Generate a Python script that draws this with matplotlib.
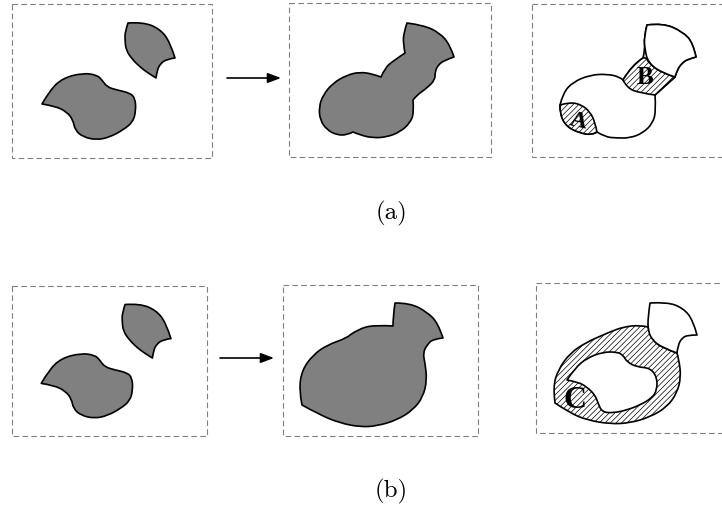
import matplotlib
matplotlib.use("Agg")
import matplotlib.pyplot as plt
from matplotlib.patches import PathPatch, Rectangle
from matplotlib.path import Path

# ---- panel boxes (x0, y0, x1, y1) in pixel coordinates ----
box_a_left = (12, 4, 212, 158)
box_a_mid = (289, 3, 491, 157)
box_a_right = (532, 4, 726, 157)
box_b_left = (12, 286, 207, 436)
box_b_mid = (283, 285, 478, 436)
box_b_right = (536, 283, 726, 433)

# ---- arrows (x_start, x_end, y) ----
arrow_a = (227, 281, 78)
arrow_b = (220, 274, 358)

# ---- captions ----
captions = ["(a)", "(b)"]
caption_pos = [(391, 213), (391, 491)]

# ---- region labels ----
region_labels = ["A", "B", "C"]
region_label_pos = [(578, 121), (645, 78), (575, 400)]
region_label_size = [17, 18, 23]
region_label_rot = [-12, 0, 0]

# ---- shapes: vertex lists; "*" marks a sharp corner ----
piece_small = [(128, 23, "*"), (143, 22), (160, 29), (170, 42), (175, 58, "*"),
               (167, 59), (160, 64), (157, 71), (156, 78, "*"),
               (148, 73), (140, 67), (132, 59), (126, 50), (125, 40),
               (125, 32)]
piece_big = [(42, 104, "*"), (50, 90), (63, 78), (83, 73), (97, 75), (102, 80),
             (107, 87), (117, 90), (130, 93), (135, 98), (136, 110),
             (133, 122), (123, 130), (110, 137), (97, 140), (83, 137),
             (75, 130), (73, 120), (67, 112), (55, 106)]

merged_a = [(407, 23, "*"), (423, 25), (440, 33), (450, 45), (454, 57, "*"),
            (445, 60), (438, 65), (435, 72), (435, 80), (427, 88),
            (417, 95), (413, 100, "*"), (414, 113), (410, 123), (400, 132),
            (387, 137), (373, 138), (360, 135), (353, 132, "*"), (347, 135),
            (337, 135), (327, 130), (320, 120), (319, 107), (323, 95),
            (333, 83), (347, 75), (360, 72), (373, 74), (381, 77, "*"),
            (385, 68), (393, 61), (405, 53, "*"), (403, 43), (404, 32)]

head_ar = [(647, 25, "*"), (663, 23), (683, 32), (693, 43), (696, 57, "*"),
           (688, 59), (682, 63), (677, 70), (675, 77, "*"),
           (660, 72), (648, 62), (645, 50), (644, 37)]
outer_ar = [(647, 25, "*"), (663, 23), (683, 32), (693, 43), (696, 57, "*"),
            (688, 59), (682, 63), (677, 70), (675, 77, "*"), (655, 95, "*"),
            (656, 110), (653, 123), (643, 133), (630, 138), (617, 138),
            (605, 137), (597, 132, "*"), (592, 135), (580, 133), (567, 127),
            (560, 115), (560, 105, "*"), (563, 93), (573, 82), (590, 75),
            (607, 74), (620, 77), (623, 80, "*"), (632, 65), (643, 58, "*"),
            (645, 50), (644, 37)]
region_B = [(623, 80, "*"), (632, 65), (643, 58, "*"), (646, 57), (648, 62),
            (660, 72), (675, 77, "*"), (655, 95, "*"), (640, 93), (627, 88)]
region_A = [(560, 105, "*"), (560, 115), (567, 127), (580, 133), (592, 135),
            (597, 132, "*"), (595, 122), (590, 112), (582, 105), (570, 102)]

closed_b = [(395, 303, "*"), (410, 303), (427, 312), (438, 323), (443, 338, "*"),
            (433, 339), (427, 345), (423, 353), (425, 363), (427, 380),
            (423, 397), (413, 410), (397, 420), (377, 426), (360, 427),
            (340, 423), (320, 415), (302, 405, "*"), (299, 390), (302, 370),
            (313, 355), (327, 345), (347, 338), (350, 335, "*"), (360, 328),
            (377, 325), (393, 326, "*"), (393, 317)]

head_br = [(650, 303, "*"), (667, 302), (683, 308), (693, 320), (697, 335, "*"),
           (688, 335), (682, 338), (678, 345), (677, 353, "*"),
           (663, 348), (652, 340), (648, 330), (648, 317)]
outer_br = [(677, 353, "*"), (679, 360), (681, 377), (677, 393), (667, 407),
            (650, 417), (630, 423), (610, 424), (587, 420), (570, 413),
            (555, 403, "*"), (553, 387), (558, 370), (570, 353), (587, 342),
            (603, 335), (610, 332), (623, 327), (640, 325), (648, 327, "*"),
            (652, 340), (663, 348)]
hole_br = [(567, 380, "*"), (575, 368), (587, 358), (603, 352), (617, 352),
           (623, 355), (627, 362), (637, 367), (650, 368), (657, 377),
           (657, 390), (652, 398), (640, 405), (627, 410), (613, 413),
           (602, 412), (598, 403), (595, 395), (587, 387), (578, 382)]

GRAY = "#808080"
BOX = "#7f7f7f"
LW = 1.2

plt.rcParams["hatch.linewidth"] = 0.5
plt.rcParams["hatch.color"] = "#4a4a4a"

fig = plt.figure(figsize=(7.22, 5.08), dpi=100)
ax = fig.add_axes([0, 0, 1, 1])
ax.set_xlim(0, 722)
ax.set_ylim(508, 0)
ax.axis("off")


def smooth_path(pts):
    P = [(p[0], p[1]) for p in pts]
    C = [len(p) > 2 for p in pts]
    n = len(P)
    if any(C):
        k = C.index(True)
        P = P[k:] + P[:k]
        C = C[k:] + C[:k]
        start = P[0]
    else:
        start = ((P[-1][0] + P[0][0]) / 2, (P[-1][1] + P[0][1]) / 2)
    verts = [start]
    codes = [Path.MOVETO]
    cur = start
    for i in range(n):
        if C[i]:
            if cur != P[i]:
                verts.append(P[i]); codes.append(Path.LINETO)
                cur = P[i]
            continue
        prv, nxt = (i - 1) % n, (i + 1) % n
        a = P[prv] if C[prv] else ((P[prv][0] + P[i][0]) / 2, (P[prv][1] + P[i][1]) / 2)
        b = P[nxt] if C[nxt] else ((P[nxt][0] + P[i][0]) / 2, (P[nxt][1] + P[i][1]) / 2)
        if cur != a:
            verts.append(a); codes.append(Path.LINETO)
        verts += [P[i], b]
        codes += [Path.CURVE3, Path.CURVE3]
        cur = b
    verts.append(start)
    codes.append(Path.CLOSEPOLY)
    return Path(verts, codes)


def box(b):
    x0, y0, x1, y1 = b
    ax.add_patch(Rectangle((x0, y0), x1 - x0, y1 - y0, fill=False,
                           edgecolor=BOX, lw=0.8, ls=(0, (5, 3))))


def shape(pts, face, hatch=None, zorder=2):
    ax.add_patch(PathPatch(smooth_path(pts), facecolor=face, edgecolor="black",
                           lw=LW, hatch=hatch, joinstyle="round",
                           zorder=zorder))


def remap(pts, src, dst):
    sx = (dst[2] - dst[0]) / (src[2] - src[0])
    sy = (dst[3] - dst[1]) / (src[3] - src[1])
    return [(dst[0] + (p[0] - src[0]) * sx, dst[1] + (p[1] - src[1]) * sy) + tuple(p[2:])
            for p in pts]


for b in [box_a_left, box_a_mid, box_a_right, box_b_left, box_b_mid,
          box_b_right]:
    box(b)

# (a)
shape(piece_small, GRAY)
shape(piece_big, GRAY)
shape(merged_a, GRAY)
shape(outer_ar, "white")
shape(region_B, "white", hatch="//////", zorder=3)
shape(region_A, "white", hatch="//////", zorder=3)
shape(head_ar, "white", zorder=4)

# (b)
shape(remap(piece_small, box_a_left, box_b_left), GRAY)
shape(remap(piece_big, box_a_left, box_b_left), GRAY)
shape(closed_b, GRAY)
shape(outer_br, "white", hatch="//////")
shape(hole_br, "white", zorder=3)
shape(head_br, "white", zorder=4)

for x0, x1, y in [arrow_a, arrow_b]:
    ax.annotate("", xy=(x1, y), xytext=(x0, y),
                arrowprops=dict(arrowstyle="-|>,head_length=0.8,head_width=0.3",
                                color="black", lw=1.2, shrinkA=0, shrinkB=0))

for t, (x, y) in zip(captions, caption_pos):
    ax.text(x, y, t, fontsize=18, family="cmr10", ha="center", va="center")

for t, (x, y), s, r in zip(region_labels, region_label_pos, region_label_size,
                           region_label_rot):
    ax.text(x, y, t, fontsize=s, rotation=r, family="Liberation Serif",
            fontweight="bold", ha="center", va="center", zorder=6)

fig.savefig("out.png", dpi=100)
